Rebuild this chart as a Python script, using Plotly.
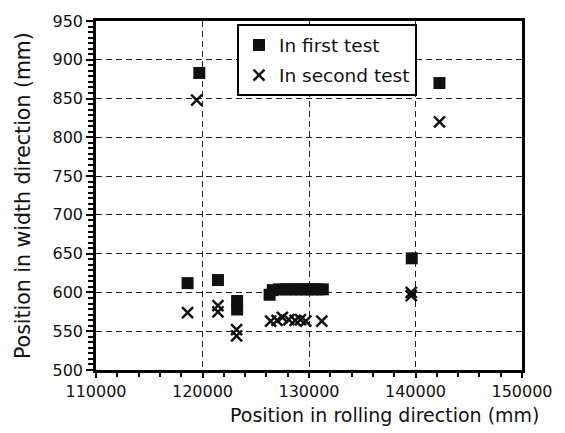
import plotly.graph_objects as go

# Measurement positions (mm)
first_x = [119700, 142250, 139650, 118600, 121450, 123250, 123250,
           126300, 126600, 127200, 127800, 128300, 128800, 129300,
           129800, 130300, 130800, 131300]
first_y = [883, 870, 644, 612, 616, 589, 578,
           597, 603, 604, 604, 604, 604, 604,
           604, 604, 604, 604]

second_x = [119450, 142250, 139600, 139600, 118600, 121450, 121450,
            123200, 123200, 126400, 127000, 127500, 128100, 128700,
            129200, 129700, 131200]
second_y = [848, 820, 600, 596, 574, 583, 575,
            552, 544, 563, 564, 568, 565, 564,
            565, 563, 563]

x_ticks = [110000, 120000, 130000, 140000, 150000]
y_ticks = [500, 550, 600, 650, 700, 750, 800, 850, 900, 950]

FONT = "DejaVu Sans, Liberation Sans, Arial, sans-serif"
INK = "#111111"

fig = go.Figure()
fig.add_trace(go.Scatter(
    x=first_x, y=first_y, mode="markers", name="In first test",
    legendgroup="first",
    marker=dict(symbol="square", size=12, color=INK, line=dict(width=0)),
))
fig.add_trace(go.Scatter(
    x=second_x, y=second_y, mode="markers", name="In second test",
    legendgroup="second",
    marker=dict(symbol="x-thin", size=11, color=INK,
                line=dict(width=2.5, color=INK)),
))

axis_common = dict(
    showline=True, linecolor="black", linewidth=2.5, mirror=True,
    ticks="outside", tickcolor="black", tickwidth=1.5,
    showgrid=True, gridcolor="#222222", gridwidth=1.2, griddash="6px,4px",
    zeroline=False, tickfont=dict(family=FONT, size=16, color=INK),
)

fig.update_xaxes(
    range=[110000, 150000], tickvals=x_ticks,
    ticktext=[str(v) for v in x_ticks], ticklen=5,
    minor=dict(dtick=2000, ticks="outside", ticklen=4, tickwidth=1.5,
               tickcolor="black", showgrid=False),
    **axis_common,
)
fig.update_yaxes(
    range=[500, 950], tickvals=y_ticks,
    ticktext=[str(v) for v in y_ticks], ticklen=7,
    minor=dict(dtick=50 / 7, ticks="outside", ticklen=5, tickwidth=1.5,
               tickcolor="black", showgrid=False),
    **axis_common,
)

fig.add_annotation(
    text="Position in rolling direction (mm)", xref="paper", yref="paper",
    x=1.047, y=-0.128, xanchor="right", yanchor="middle", showarrow=False,
    font=dict(family=FONT, size=19, color=INK),
)
fig.add_annotation(
    text="Position in width direction (mm)", xref="paper", yref="paper",
    x=-0.1725, y=0.5, xanchor="center", yanchor="middle", textangle=-90,
    showarrow=False, font=dict(family=FONT, size=20.5, color=INK),
)

fig.update_layout(
    width=565, height=433,
    margin=dict(l=96, r=40, t=17, b=63),
    paper_bgcolor="white", plot_bgcolor="white",
    font=dict(family=FONT, size=16, color=INK),
    legend=dict(
        x=0.331, y=0.99, xanchor="left", yanchor="top",
        bgcolor="white", bordercolor="black", borderwidth=2,
        font=dict(family=FONT, size=18.5, color=INK),
        itemwidth=30, tracegroupgap=3,
    ),
)

fig.write_html("out.html")
